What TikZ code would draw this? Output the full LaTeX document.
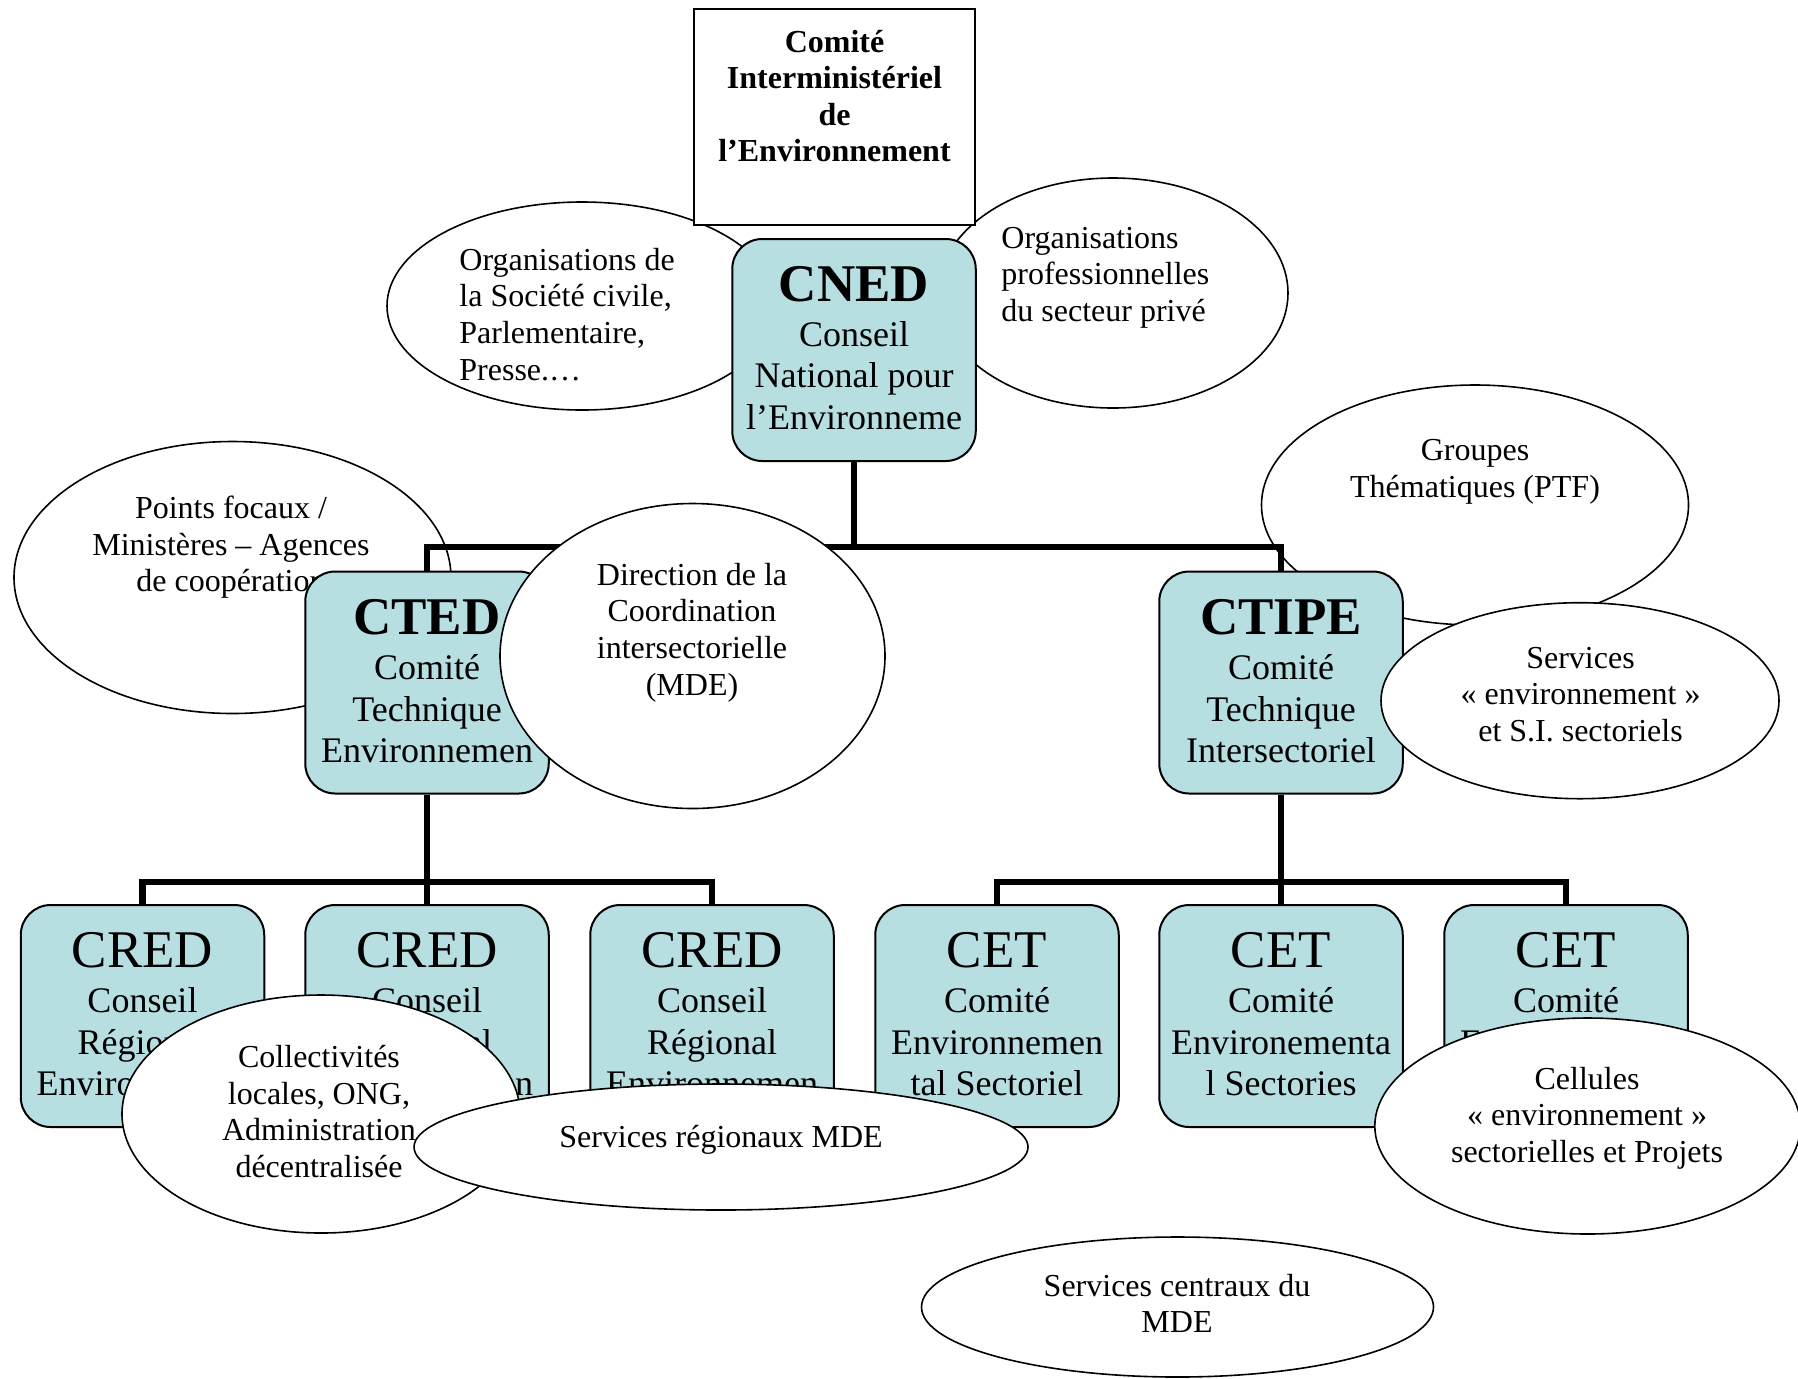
\documentclass[tikz,border=0pt]{standalone}
\usepackage{fontspec}
\setmainfont{Liberation Serif}
\usetikzlibrary{shapes.geometric}
\definecolor{boxfill}{HTML}{B7DFE2}
\newcommand{\ctext}[1]{\parbox[t]{300pt}{\centering #1}}
\newcommand{\ltext}[1]{\parbox[t]{200pt}{\raggedright #1}}
\begin{document}
\begin{tikzpicture}[x=0.5pt,y=-0.5pt,
  box/.style={draw=black, line width=1pt, fill=boxfill, rounded corners=15pt, minimum width=121.75pt, minimum height=111pt, inner sep=0pt},
  bubble/.style={draw=black, line width=0.8pt, fill=white, ellipse, inner sep=0pt},
  conn/.style={line width=3.2pt, line join=miter},
  small/.style={font=\fontsize{16}{18.35}\selectfont, anchor=base, inner sep=0pt},
  smallb/.style={font=\fontsize{16}{18.3}\selectfont\bfseries, anchor=base, inner sep=0pt},
  lsmall/.style={small, anchor=base west},
  mid/.style={font=\fontsize{18}{20.75}\selectfont, anchor=base, inner sep=0pt},
  big/.style={font=\fontsize{26.5}{30}\selectfont, anchor=base, inner sep=0pt},
  bigb/.style={font=\fontsize{26.5}{30}\selectfont\bfseries, anchor=base, inner sep=0pt}]
\path[use as bounding box, fill=white] (0,0) rectangle (1798,1378);

% ---- background bubbles
\node[bubble, minimum width=195pt, minimum height=104pt] (eSoc) at (582,306) {};
\node[lsmall] (tSoc) at (459,270) {\ltext{Organisations de\\la Société civile,\\Parlementaire,\\Presse.…}};
\node[bubble, minimum width=175pt, minimum height=115pt] (ePro) at (1113,293) {};
\node[lsmall] (tPro) at (1001,248) {\ltext{Organisations\\professionnelles\\du secteur privé}};
\node[bubble, minimum width=218.5pt, minimum height=136pt] (eFoc) at (232.5,577.5) {};
\node[small] (tFoc) at (231,518.5) {\ctext{Points focaux /\\Ministères – Agences\\de coopération}};
\node[bubble, minimum width=213.5pt, minimum height=120pt] (eGrp) at (1475,505) {};
\node[small] (tGrp) at (1475,460.5) {\ctext{Groupes\\Thématiques (PTF)}};

% ---- top box
\node[draw=black, line width=1pt, fill=white, minimum width=140.5pt, minimum height=108pt, inner sep=0pt] (cie) at (834.5,117) {};
\node[smallb] (tcie) at (834.5,52) {\ctext{Comité\\Interministériel\\de\\l’Environnement}};

% ---- CNED
\node[box] (cned) at (854,350) {};
\node[bigb] (tcned) at (854,301) {CNED};
\node[mid] (scned) at (854,346) {\ctext{Conseil\\National pour\\l’Environneme}};

% ---- CTED / CTIPE
\node[box] (cted) at (427,682.5) {};
\node[bigb] (tcted) at (427,634) {CTED};
\node[mid] (scted) at (427,679.5) {\ctext{Comité\\Technique\\Environnemen}};
\node[box] (ctipe) at (1281,682.5) {};
\node[bigb] (tctipe) at (1281,634) {CTIPE};
\node[mid] (sctipe) at (1281,679.5) {\ctext{Comité\\Technique\\Intersectoriel}};

% ---- top connectors
\coordinate (busA) at (854,547);
\draw[conn] (cned.south) -- (cned.south |- busA);
\draw[conn] (cted.north) |- (ctipe.north |- busA) -- (ctipe.north);

% ---- bubbles over middle row
\node[bubble, minimum width=192.5pt, minimum height=152.5pt] (eDir) at (692.5,656) {};
\node[small] (tDir) at (692,585) {\ctext{Direction de la\\Coordination\\intersectorielle\\(MDE)}};
\node[bubble, minimum width=199pt, minimum height=98pt] (eSrv) at (1580,700.7) {};
\node[small] (tSrv) at (1580.5,668) {\ctext{Services\\« environnement »\\et S.I. sectoriels}};

% ---- bottom boxes
\node[box] (cred1) at (142.5,1016) {};
\node[big] (tcred1) at (142.5,967.5) {CRED};
\node[mid] (scred1) at (142.5,1012.5) {\ctext{Conseil\\Régional\\Environnemen}};
\node[box] (cred2) at (427,1016) {};
\node[big] (tcred2) at (427,967.5) {CRED};
\node[mid] (scred2) at (427,1012.5) {\ctext{Conseil\\Régional\\Environnemen}};
\node[box] (cred3) at (712,1016) {};
\node[big] (tcred3) at (712,967.5) {CRED};
\node[mid] (scred3) at (712,1012.5) {\ctext{Conseil\\Régional\\Environnemen}};
\node[box] (cet1) at (997,1016) {};
\node[big] (tcet1) at (997,967.5) {CET};
\node[mid] (scet1) at (997,1012.5) {\ctext{Comité\\Environnemen\\tal Sectoriel}};
\node[box] (cet2) at (1281,1016) {};
\node[big] (tcet2) at (1281,967.5) {CET};
\node[mid] (scet2) at (1281,1012.5) {\ctext{Comité\\Environementa\\l Sectories}};
\node[box] (cet3) at (1566,1016) {};
\node[big] (tcet3) at (1566,967.5) {CET};
\node[mid] (scet3) at (1566,1012.5) {\ctext{Comité\\Environnemen\\tal Sectoriel}};

% ---- bottom connectors
\coordinate (busB) at (427,882);
\coordinate (busC) at (1281,882);
\draw[conn] (cted.south) -- (cred2.north);
\draw[conn] (cred1.north) |- (cred3.north |- busB) -- (cred3.north);
\draw[conn] (ctipe.south) -- (cet2.north);
\draw[conn] (cet1.north) |- (cet3.north |- busC) -- (cet3.north);

% ---- bottom bubbles
\node[bubble, minimum width=199pt, minimum height=119pt] (eCol) at (321,1114) {};
\node[small] (tCol) at (319,1067.3) {\ctext{Collectivités\\locales, ONG,\\Administration\\décentralisée}};
\node[bubble, minimum width=307pt, minimum height=63pt] (eReg) at (721,1147) {};
\node[small] (tReg) at (721,1147) {Services régionaux MDE};
\node[bubble, minimum width=212.8pt, minimum height=108pt] (eCel) at (1587.6,1126) {};
\node[small] (tCel) at (1587,1089) {\ctext{Cellules\\« environnement »\\sectorielles et Projets}};
\node[bubble, minimum width=256pt, minimum height=70pt] (eCen) at (1177.5,1307) {};
\node[small] (tCen) at (1177,1296) {\ctext{Services centraux du\\MDE}};
\end{tikzpicture}
\end{document}
